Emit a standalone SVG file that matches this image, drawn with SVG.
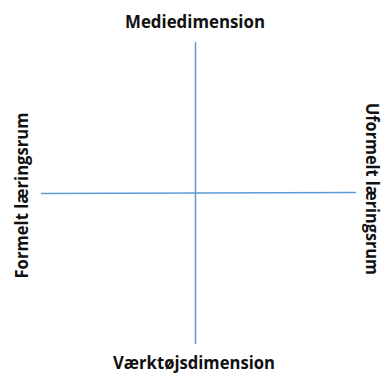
<svg xmlns="http://www.w3.org/2000/svg" width="383" height="374" viewBox="0 0 383 374">
<style>
.lbl{font-family:"Open Sans","Liberation Sans",sans-serif;font-weight:bold;font-size:17px;fill:#111;text-anchor:middle}
.ax{stroke:#5b9bd5;stroke-width:1.5;fill:none}
</style>
<rect width="383" height="374" fill="#fff"/>
<g id="connectors">
<line class="ax" x1="195.5" y1="42" x2="195.5" y2="344"/>
<line class="ax" x1="41" y1="193.5" x2="356" y2="192.5"/>
</g>
<g id="top"><text class="lbl" x="195" y="28" textLength="140" lengthAdjust="spacingAndGlyphs">Mediedimension</text></g>
<g id="bottom"><text class="lbl" x="194" y="369" textLength="162" lengthAdjust="spacingAndGlyphs">Værktøjsdimension</text></g>
<g id="left"><text class="lbl" transform="translate(27.5,195.5) rotate(-90)" textLength="166" lengthAdjust="spacingAndGlyphs">Formelt læringsrum</text></g>
<g id="right"><text class="lbl" transform="translate(366,189) rotate(90)" textLength="172" lengthAdjust="spacingAndGlyphs">Uformelt læringsrum</text></g>
</svg>
